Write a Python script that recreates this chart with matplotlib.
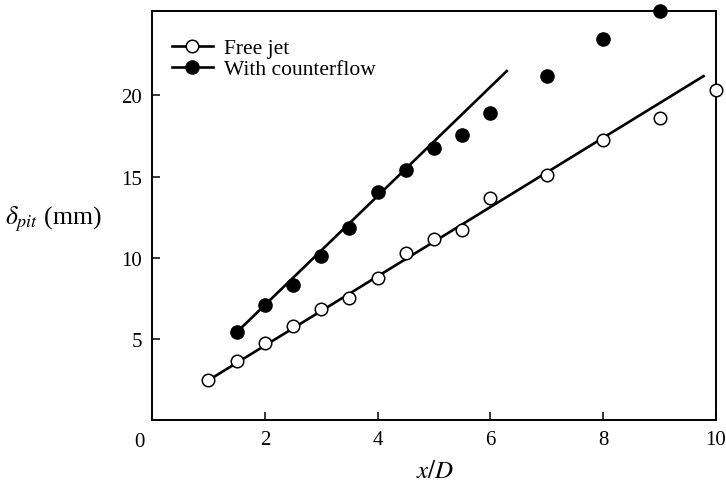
import numpy as np
import matplotlib
matplotlib.use('Agg')
import matplotlib.pyplot as plt

plt.rcParams['font.family'] = ['Liberation Serif', 'DejaVu Serif']
plt.rcParams['mathtext.fontset'] = 'stix'

# pitot-tube width vs. downstream distance
free_x = [1.0, 1.5, 2.0, 2.5, 3.0, 3.5, 4.0, 4.5, 5.0, 5.5, 6.0, 7.0, 8.0, 9.0, 10.0]
free_y = [2.46, 3.61, 4.74, 5.78, 6.83, 7.49, 8.75, 10.3, 11.18, 11.73, 13.7, 15.08, 17.23, 18.58, 20.33]

cf_x = [1.5, 2.0, 2.5, 3.0, 3.5, 4.0, 4.5, 5.0, 5.5, 6.0, 7.0, 8.0, 9.0]
cf_y = [5.40, 7.08, 8.33, 10.13, 11.8, 14.05, 15.38, 16.78, 17.58, 18.93, 21.19, 23.49, 25.2]

# linear trend lines (end points)
free_fit_x = [1.0, 9.78]
free_fit_y = [2.45, 21.19]
cf_fit_x = [1.5, 6.29]
cf_fit_y = [5.40, 21.5]

xticks = [2, 4, 6, 8, 10]
yticks = [5, 10, 15, 20]

fig = plt.figure(figsize=(7.26, 4.89), dpi=100)
ax = fig.add_axes([0.2094, 0.139, 0.7768, 0.8365])

ax.plot(free_fit_x, free_fit_y, '-', color='black', lw=1.9, zorder=2)
ax.plot(cf_fit_x, cf_fit_y, '-', color='black', lw=1.9, zorder=2)
ax.plot(free_x, free_y, 'o', ms=9, mfc='white', mec='black', mew=1.1,
        clip_on=False, zorder=3)
ax.plot(cf_x, cf_y, 'o', ms=9.5, mfc='black', mec='black',
        clip_on=False, zorder=3)

# legend entries: line with marker in the middle
h1, = ax.plot([], [], '-o', color='black', lw=1.9, ms=9, mfc='white', mew=1.1)
h2, = ax.plot([], [], '-o', color='black', lw=1.9, ms=9.5, mfc='black')
leg = ax.legend([h1, h2], ['Free jet', 'With counterflow'], loc='upper left',
                frameon=False, fontsize=15.5, handlelength=1.9, handletextpad=0.5,
                labelspacing=0.05, borderaxespad=0.0,
                bbox_to_anchor=(0.02, 0.955))

ax.set_xlim(0, 10)
ax.set_ylim(0, 25.2)
ax.set_xticks(xticks)
ax.set_yticks(yticks)
ax.set_xticklabels([str(t) for t in xticks])
ax.set_yticklabels([str(t) for t in yticks])
ax.tick_params(direction='in', length=6, width=1.1, labelsize=15, pad=7,
               top=False, right=False)
for s in ax.spines.values():
    s.set_linewidth(1.4)

fig.text(139 / 726, 1 - 443 / 489, '0', fontsize=15, ha='center', va='center')
fig.text(5 / 726, 1 - 219 / 489, r'$\delta_{pit}$ (mm)', fontsize=18.5,
         ha='left', va='center')
fig.text(435 / 726, 1 - 472 / 489, r'$x/D$', fontsize=18, ha='center', va='center')

fig.savefig('out.png', dpi=100)
